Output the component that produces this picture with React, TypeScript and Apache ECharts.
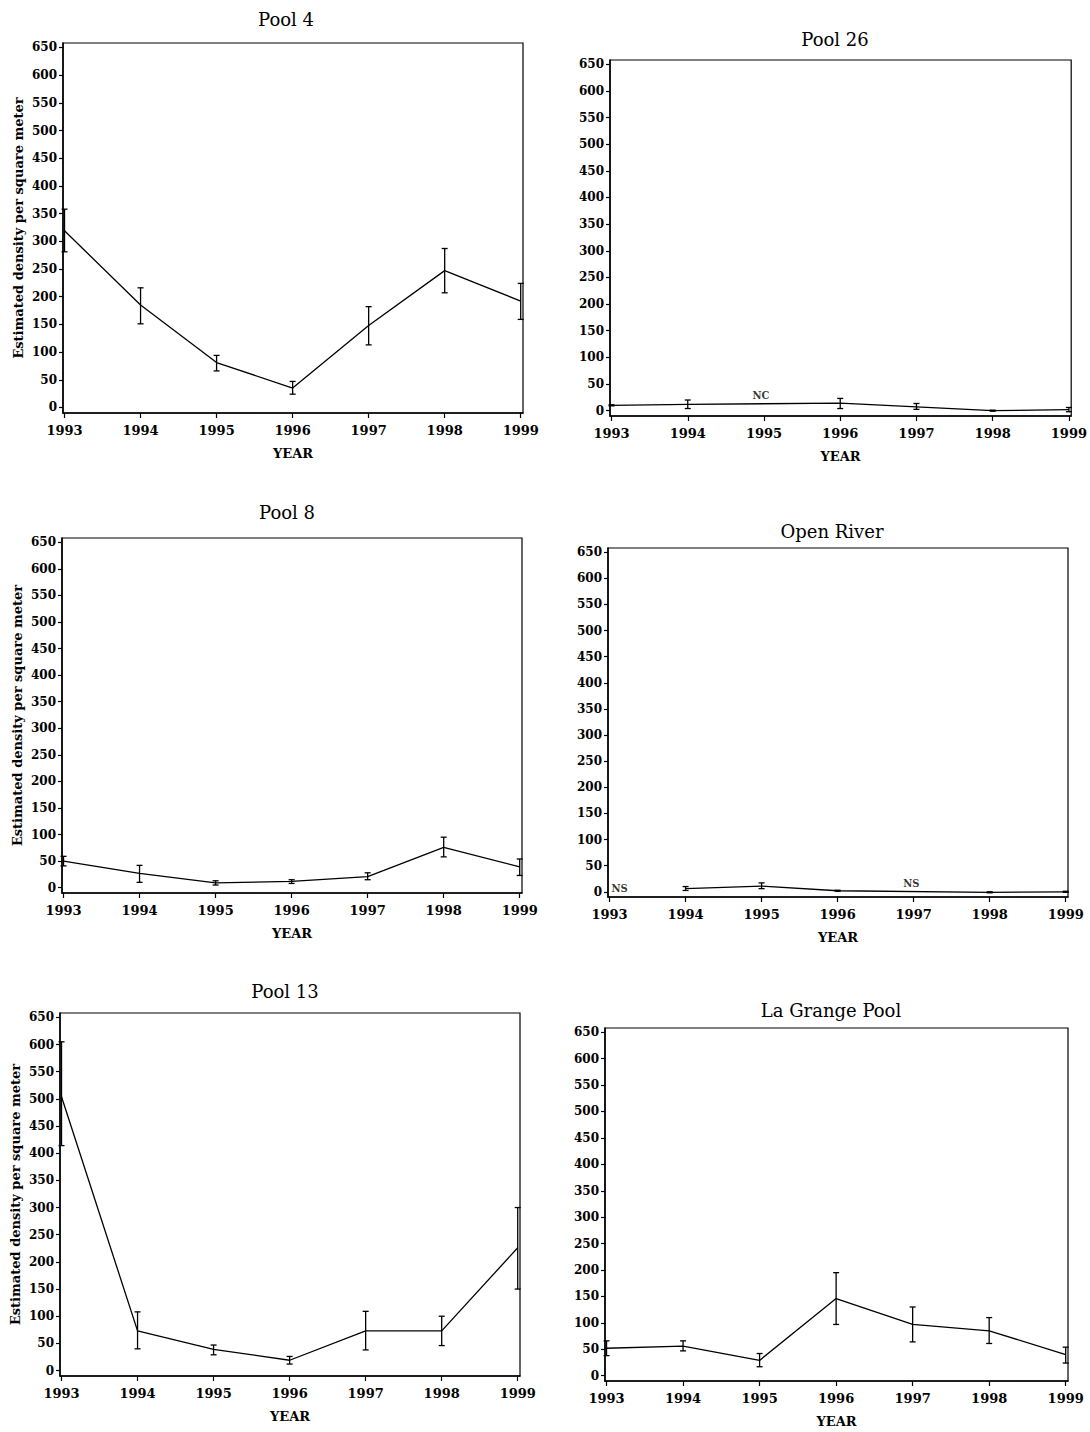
import React, { useEffect, useRef } from "react";
import * as echarts from "echarts";

const YEARS = [1993, 1994, 1995, 1996, 1997, 1998, 1999];
const Y_TICKS = [0, 50, 100, 150, 200, 250, 300, 350, 400, 450, 500, 550, 600, 650];

const TITLES = ["Pool 4", "Pool 26", "Pool 8", "Open River", "Pool 13", "La Grange Pool"];

const POOL4_MEAN = [319, 185, 81, 35, 148, 247, 192];
const POOL4_LO = [281, 151, 66, 24, 113, 207, 159];
const POOL4_HI = [358, 216, 94, 47, 182, 287, 224];

const POOL26_MEAN = [10, 12, null, 14, 7, 0, 2];
const POOL26_LO = [9, 4, null, 4, 2.5, -1, -2];
const POOL26_HI = [11, 20, null, 23, 13.5, 1, 6];

const POOL8_MEAN = [50, 27, 9, 12, 21, 76, 39];
const POOL8_LO = [41, 10, 5, 8, 15, 58, 23];
const POOL8_HI = [59, 42, 13, 15, 28, 95, 54];

const OPEN_MEAN = [null, 6, 11, 2, null, -1, 0];
const OPEN_LO = [null, 2.5, 6, 1, null, -2, -1];
const OPEN_HI = [null, 10, 17, 3, null, 0, 1];

const POOL13_MEAN = [504, 73, 39, 19, 73, 73, 226];
const POOL13_LO = [414, 40, 29, 12, 38, 46, 150];
const POOL13_HI = [605, 108, 47, 26, 109, 100, 300];

const LAGRANGE_MEAN = [52, 56, 29, 146, 97, 85, 40];
const LAGRANGE_LO = [38, 47, 17, 97, 64, 61, 24];
const LAGRANGE_HI = [66, 66, 42, 195, 130, 110, 54];

// annotation notes: [year, value, text, label position]
type Note = [number, number, string, string];
const POOL26_NOTES: Note[] = [[1994.96, 28, "NC", "inside"]];
const OPEN_NOTES: Note[] = [
  [1993.0, 7, "NS", "right"],
  [1996.97, 15, "NS", "inside"],
];

const SERIES_DATA = [
  { mean: POOL4_MEAN, lo: POOL4_LO, hi: POOL4_HI, notes: [] as Note[] },
  { mean: POOL26_MEAN, lo: POOL26_LO, hi: POOL26_HI, notes: POOL26_NOTES },
  { mean: POOL8_MEAN, lo: POOL8_LO, hi: POOL8_HI, notes: [] as Note[] },
  { mean: OPEN_MEAN, lo: OPEN_LO, hi: OPEN_HI, notes: OPEN_NOTES },
  { mean: POOL13_MEAN, lo: POOL13_LO, hi: POOL13_HI, notes: [] as Note[] },
  { mean: LAGRANGE_MEAN, lo: LAGRANGE_LO, hi: LAGRANGE_HI, notes: [] as Note[] },
];

// layout (pixels)
const GRIDS = [
  { left: 63, top: 43, width: 460, height: 370 },
  { left: 610, top: 60, width: 462, height: 356 },
  { left: 62, top: 538, width: 460, height: 355 },
  { left: 608, top: 548, width: 460, height: 349 },
  { left: 60, top: 1013, width: 460, height: 363 },
  { left: 605, top: 1028, width: 463, height: 353 },
];
const TITLE_POS = [
  [281, 5],
  [830, 25],
  [282, 498],
  [827, 517],
  [280, 977],
  [826, 996],
];

const SERIF = "'DejaVu Serif', 'Liberation Serif', serif";

export default function App() {
  const ref = useRef<HTMLDivElement>(null);
  useEffect(() => {
    if (!ref.current) return;
    const chart = echarts.init(ref.current, undefined, { renderer: "svg" });

    const grid: any[] = [];
    const xAxis: any[] = [];
    const yAxis: any[] = [];
    const series: any[] = [];
    const title: any[] = [];

    SERIES_DATA.forEach((d, i) => {
      const g = GRIDS[i];
      grid.push({
        left: g.left,
        top: g.top,
        width: g.width,
        height: g.height,
        show: true,
        borderColor: "#000",
        borderWidth: 1.2,
        backgroundColor: "transparent",
        containLabel: false,
      });
      title.push({
        text: TITLES[i],
        left: TITLE_POS[i][0],
        top: TITLE_POS[i][1],
        textAlign: "center",
        textStyle: { fontFamily: SERIF, fontSize: 18, fontWeight: "normal", color: "#000" },
      });
      xAxis.push({
        type: "value",
        gridIndex: i,
        min: 1992.98,
        max: 1999.03,
        name: "YEAR",
        nameLocation: "middle",
        nameGap: 34,
        nameTextStyle: { fontFamily: SERIF, fontSize: 13, fontWeight: "bold", color: "#000" },
        axisLine: { show: true, onZero: false, lineStyle: { color: "#000", width: 1.5 } },
        axisTick: { show: true, length: 5, inside: false, customValues: YEARS, lineStyle: { color: "#000", width: 1.2 } },
        axisLabel: {
          customValues: YEARS,
          margin: 11,
          formatter: (v: number) => String(Math.round(v)),
          fontFamily: SERIF,
          fontSize: 13,
          fontWeight: "bold",
          color: "#000",
        },
        splitLine: { show: false },
      });
      const isLeft = i % 2 === 0;
      yAxis.push({
        type: "value",
        gridIndex: i,
        min: -10,
        max: 658,
        name: isLeft ? "Estimated density per square meter" : "",
        nameLocation: "middle",
        nameGap: 38,
        nameTextStyle: { fontFamily: SERIF, fontSize: 13, fontWeight: "bold", color: "#000" },
        axisLine: { show: true, onZero: false, lineStyle: { color: "#000", width: 1.5 } },
        axisTick: { show: true, length: 4, inside: false, customValues: Y_TICKS, lineStyle: { color: "#000", width: 1.2 } },
        axisLabel: {
          customValues: Y_TICKS,
          margin: 6,
          fontFamily: SERIF,
          fontSize: 12,
          fontWeight: "bold",
          color: "#000",
        },
        splitLine: { show: false },
      });

      const lineData = YEARS.map((yr, k) => (d.mean[k] == null ? null : [yr, d.mean[k]])).filter(
        (p) => p !== null
      );
      series.push({
        type: "line",
        xAxisIndex: i,
        yAxisIndex: i,
        data: lineData,
        symbol: "none",
        lineStyle: { color: "#000", width: 1.3 },
        silent: true,
      });

      const errData = YEARS.map((yr, k) => (d.lo[k] == null ? null : [yr, d.lo[k], d.hi[k]])).filter(
        (p) => p !== null
      );
      series.push({
        type: "custom",
        xAxisIndex: i,
        yAxisIndex: i,
        data: errData,
        encode: { x: 0, y: [1, 2] },
        silent: true,
        renderItem: (_params: any, api: any) => {
          const x = api.value(0);
          const pLo = api.coord([x, api.value(1)]);
          const pHi = api.coord([x, api.value(2)]);
          const w = 3;
          const st = { stroke: "#000", lineWidth: 1.3 };
          return {
            type: "group",
            children: [
              { type: "line", shape: { x1: pLo[0], y1: pLo[1], x2: pHi[0], y2: pHi[1] }, style: st },
              { type: "line", shape: { x1: pHi[0] - w, y1: pHi[1], x2: pHi[0] + w, y2: pHi[1] }, style: st },
              { type: "line", shape: { x1: pLo[0] - w, y1: pLo[1], x2: pLo[0] + w, y2: pLo[1] }, style: st },
            ],
          };
        },
      });

      if (d.notes.length) {
        series.push({
          type: "scatter",
          xAxisIndex: i,
          yAxisIndex: i,
          symbolSize: 0,
          silent: true,
          data: d.notes.map((n) => ({
            value: [n[0], n[1]],
            name: n[2],
            label: { position: n[3], distance: 2 },
          })),
          label: {
            show: true,
            position: "inside",
            formatter: (p: any) => p.name,
            fontFamily: "'DejaVu Serif Condensed', 'DejaVu Serif', serif",
            fontSize: 11,
            fontWeight: "bold",
            color: "#000",
          },
        });
      }
    });

    chart.setOption({
      animation: false,
      backgroundColor: "#fff",
      title,
      grid,
      xAxis,
      yAxis,
      series,
    });
    return () => chart.dispose();
  }, []);
  return (
    <div
      ref={ref}
      style={{ position: "absolute", left: 0, top: 0, width: 1090, height: 1432, background: "#fff" }}
    />
  );
}
